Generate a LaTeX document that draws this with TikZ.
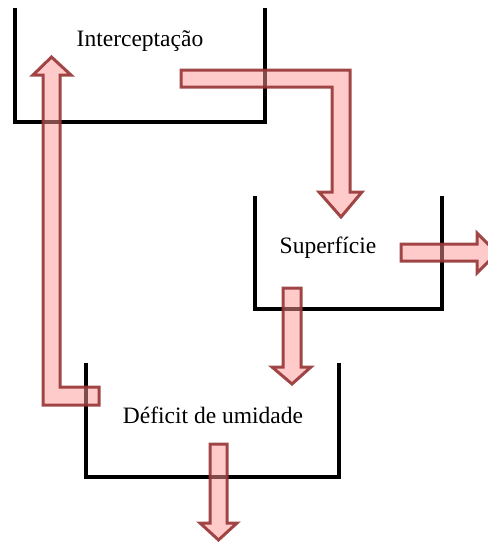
\documentclass[tikz,border=0pt]{standalone}
\usepackage{fontspec}
\setmainfont{Liberation Serif}
\definecolor{arrowedge}{RGB}{150,52,52}
\definecolor{arrowfill}{RGB}{255,150,150}
\begin{document}
\begin{tikzpicture}[x=1pt,y=-1pt,
  tank/.style={line width=4pt, black, line join=miter, line cap=butt},
  flow/.style={line width=3pt, draw=arrowedge, draw opacity=0.9,
               fill=arrowfill, fill opacity=0.5, line join=miter},
  label/.style={font=\fontsize{23.5}{26}\selectfont, inner sep=0pt}]
\useasboundingbox (0,0) rectangle (488,542);
\begin{scope}
\clip (0,0) rectangle (488,542);

% reservoirs (open-top containers)
\draw[tank] (15,8) -- (15,122) -- (265,122) -- (265,8);
\draw[tank] (255,196) -- (255,309) -- (442,309) -- (442,196);
\draw[tank] (86,363) -- (86,477) -- (339,477) -- (339,363);

% Interceptação -> Superfície
\draw[flow] (181,70) -- (350,70) -- (350,192) -- (362,192) -- (341,217)
  -- (319,192) -- (332,192) -- (332,87) -- (181,87) -- cycle;
% Superfície -> outside
\draw[flow] (401,244) -- (477,244) -- (477,233) -- (497,253)
  -- (477,273) -- (477,261) -- (401,261) -- cycle;
% Superfície -> Déficit de umidade
\draw[flow] (283,288) -- (301,288) -- (301,367) -- (311,367) -- (292,384)
  -- (272,367) -- (283,367) -- cycle;
% Déficit de umidade -> drainage
\draw[flow] (210,444) -- (227,444) -- (227,523) -- (237,523) -- (218.5,540)
  -- (200,523) -- (210,523) -- cycle;
% Déficit de umidade -> Interceptação
\draw[flow] (99,387) -- (60,387) -- (60,75) -- (71,75) -- (51.5,57)
  -- (33,75) -- (43,75) -- (43,405) -- (99,405) -- cycle;
\end{scope}

% labels
\node[label] (interc) at (140,41) {Interceptação};
\node[label] (surf) at (328,248) {Superfície};
\node[label] (defic) at (213,415) {Déficit de umidade};
\end{tikzpicture}
\end{document}
